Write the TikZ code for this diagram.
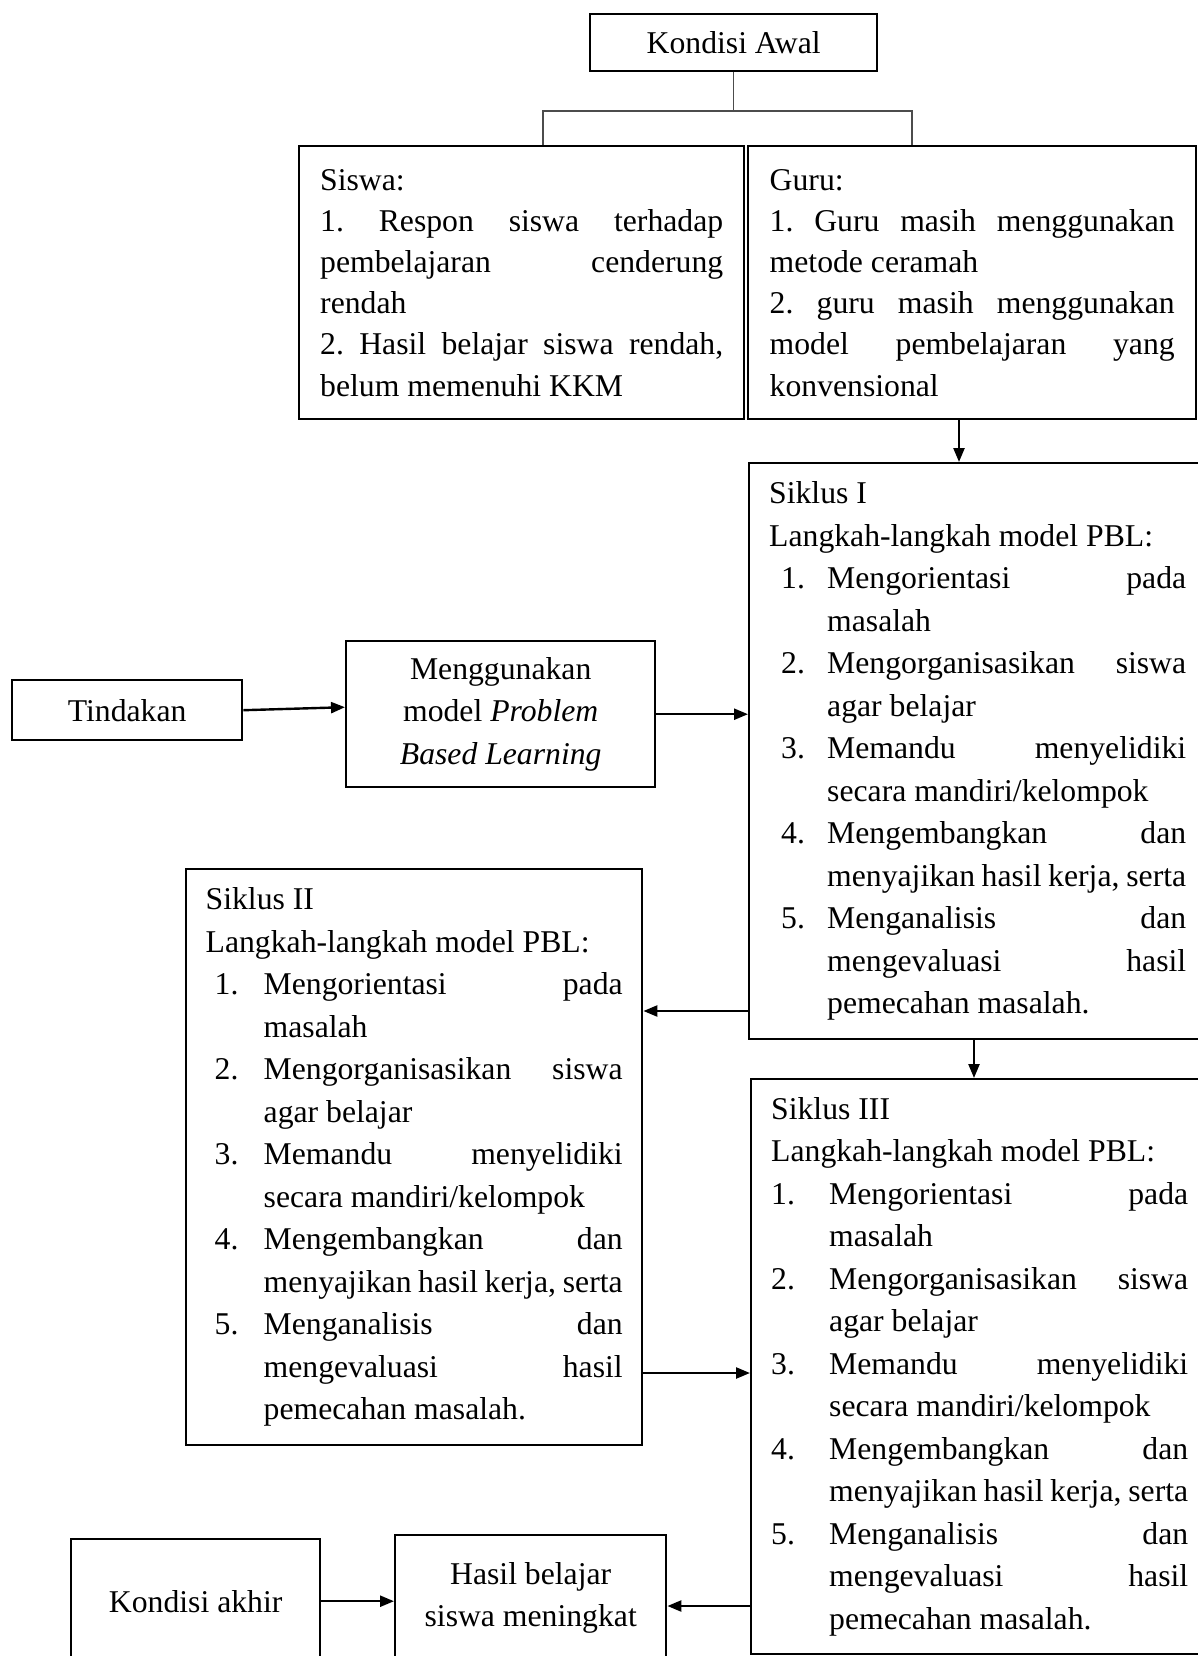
\documentclass[tikz,border=0pt]{standalone}
\usepackage{fontspec}
\setmainfont{Liberation Serif}
\usetikzlibrary{arrows.meta}

% restore the font's own (stretchable) interword glue inside aligned nodes
\newcommand{\fontspaces}{\spaceskip=0pt\xspaceskip=0pt\relax}
% numbered step: number at an offset inside a 58pt slot, first line justified
\newcommand{\stepj}[3]{\makebox[58pt][l]{\hspace*{#1}#2}\makebox[359pt][s]{#3}\par}
% continuation line of a step
\newcommand{\stepc}[1]{\hspace*{58pt}#1\par}
% justified continuation line of a step
\newcommand{\stepcj}[1]{\hspace*{58pt}\makebox[359pt][s]{#1}\par}

\begin{document}
\begin{tikzpicture}[x=1pt,y=-1pt,
  box/.style={draw=black, line width=2.4pt, anchor=north west, inner sep=0pt,
    align=center, font=\fontsize{31.7}{42.5}\selectfont},
  listbox/.style={draw=black, line width=2.4pt, anchor=north west, inner ysep=0pt,
    inner xsep=20pt, align=left, font=\fontsize{31.7}{42.5}\selectfont},
  arr/.style={line width=2.4pt, -{Triangle[length=14pt,width=11pt]}},
  link/.style={line width=1.3pt, draw=black!70}
]
\useasboundingbox (0,0) rectangle (1198,1656);

% ---------- initial condition ----------
\node[box, minimum width=287pt, minimum height=57pt] (ka) at (589,13) {Kondisi Awal};

\node[listbox, text width=403pt, inner xsep=21pt, minimum height=273pt,
      font=\fontsize{31.7}{41.2}\selectfont] (siswa) at (298,145) {\fontspaces
Siswa:\par
\makebox[403pt][s]{1.\ Respon siswa terhadap}\par
\makebox[403pt][s]{pembelajaran cenderung}\par
rendah\par
\makebox[403pt][s]{2.\ Hasil belajar siswa rendah,}\par
belum memenuhi KKM\par};

\node[listbox, text width=405pt, inner xsep=21.5pt, minimum height=273pt,
      font=\fontsize{31.7}{41.2}\selectfont] (guru) at (747,145) {\fontspaces
Guru:\par
\makebox[405pt][s]{1.\ Guru masih menggunakan}\par
metode ceramah\par
\makebox[405pt][s]{2.\ guru masih menggunakan}\par
\makebox[405pt][s]{model pembelajaran yang}\par
konvensional\par};

% ---------- action ----------
\node[box, minimum width=230pt, minimum height=60pt] (tind) at (11,679) {Tindakan};
\node[box, minimum width=309pt, minimum height=146pt] (mg) at (345,640)
  {\fontspaces Menggunakan\\model \textit{Problem}\\\textit{Based Learning}};

% ---------- cycles ----------
\node[listbox, text width=417pt, minimum height=576pt] (s1) at (748,462) {\fontspaces
Siklus I\par
Langkah-langkah model PBL:\par
\stepj{12pt}{1.}{Mengorientasi pada}
\stepc{masalah}
\stepj{12pt}{2.}{Mengorganisasikan siswa}
\stepc{agar belajar}
\stepj{12pt}{3.}{Memandu menyelidiki}
\stepc{secara mandiri/kelompok}
\stepj{12pt}{4.}{Mengembangkan dan}
\stepcj{menyajikan hasil kerja, serta}
\stepj{12pt}{5.}{Menganalisis dan}
\stepcj{mengevaluasi hasil}
\stepc{pemecahan masalah.}};

\node[listbox, text width=417pt, inner xsep=19.5pt, minimum height=576pt] (s2) at (185,868) {\fontspaces
Siklus II\par
Langkah-langkah model PBL:\par
\stepj{9pt}{1.}{Mengorientasi pada}
\stepc{masalah}
\stepj{9pt}{2.}{Mengorganisasikan siswa}
\stepc{agar belajar}
\stepj{9pt}{3.}{Memandu menyelidiki}
\stepc{secara mandiri/kelompok}
\stepj{9pt}{4.}{Mengembangkan dan}
\stepcj{menyajikan hasil kerja, serta}
\stepj{9pt}{5.}{Menganalisis dan}
\stepcj{mengevaluasi hasil}
\stepc{pemecahan masalah.}};

\node[listbox, text width=417pt, minimum height=575pt] (s3) at (750,1078) {\fontspaces
Siklus III\par
Langkah-langkah model PBL:\par
\stepj{0pt}{1.}{Mengorientasi pada}
\stepc{masalah}
\stepj{0pt}{2.}{Mengorganisasikan siswa}
\stepc{agar belajar}
\stepj{0pt}{3.}{Memandu menyelidiki}
\stepc{secara mandiri/kelompok}
\stepj{0pt}{4.}{Mengembangkan dan}
\stepcj{menyajikan hasil kerja, serta}
\stepj{0pt}{5.}{Menganalisis dan}
\stepcj{mengevaluasi hasil}
\stepc{pemecahan masalah.}};

% ---------- final condition ----------
\node[box, minimum width=249pt, minimum height=124pt] (akhir) at (70,1538) {Kondisi akhir};
\node[box, minimum width=271pt, minimum height=125pt] (hasil) at (394,1534)
  {\fontspaces Hasil belajar\\siswa meningkat};

% ---------- connectors ----------
\coordinate (bl) at (543,111);
\coordinate (br) at (912,111);
\draw[link] (ka.south) -- (ka.south |- bl);
\draw[link] (bl |- siswa.north) -- (bl) -- (br) -- (br |- guru.north);

\coordinate (c1) at (959,0);
\draw[arr] (c1 |- guru.south) -- (c1 |- s1.north);

\draw[arr] (tind.east) -- ([yshift=7pt]mg.west);
\draw[arr] (mg.east) -- (mg.east -| s1.west);

\coordinate (c2) at (0,1011);
\draw[arr] (c2 -| s1.west) -- (c2 -| s2.east);

\coordinate (c3) at (974,0);
\draw[arr] (c3 |- s1.south) -- (c3 |- s3.north);

\coordinate (c4) at (0,1373);
\draw[arr] (c4 -| s2.east) -- (c4 -| s3.west);

\coordinate (c5) at (0,1606);
\draw[arr] (c5 -| s3.west) -- (c5 -| hasil.east);

\draw[arr] (akhir.east) -- (akhir.east -| hasil.west);
\end{tikzpicture}
\end{document}
